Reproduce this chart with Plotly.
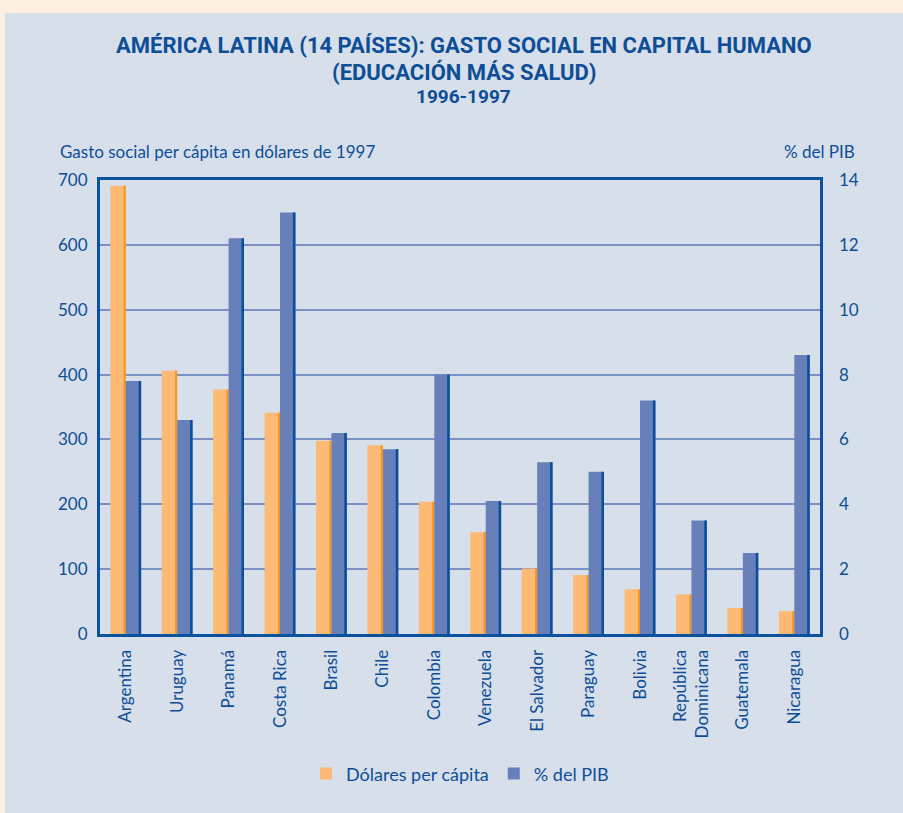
import plotly.graph_objects as go

countries = ["Argentina", "Uruguay", "Panamá", "Costa Rica", "Brasil", "Chile", "Colombia",
             "Venezuela", "El Salvador", "Paraguay", "Bolivia", "República<br>Dominicana",
             "Guatemala", "Nicaragua"]
dolares_per_capita = [691, 406, 377, 341, 298, 291, 204, 157, 101, 91, 69, 61, 40, 35]
pct_pib = [7.8, 6.6, 12.2, 13.0, 6.2, 5.7, 8.0, 4.1, 5.3, 5.0, 7.2, 3.5, 2.5, 8.6]
left_ticks = [0, 100, 200, 300, 400, 500, 600, 700]
right_ticks = [0, 2, 4, 6, 8, 10, 12, 14]

TXT = "#0E4E96"
ORANGE = "#FDBA74"
ORANGE_SIDE = "#F7941D"
BLUE = "#6780B9"
BLUE_SIDE = "#0B4F9C"
FRAME = "#0B529E"
GRID = "#7B90C4"
PANEL = "#D7DFEB"
PEACH = "#FEF0E1"
FONT = "Lato, Open Sans, sans-serif"
TFONT = "Roboto, sans-serif"

fig = go.Figure()
fig.add_trace(go.Bar(x=countries, y=dolares_per_capita, name="Dólares per cápita",
                     marker=dict(color=ORANGE, line=dict(width=0)),
                     offset=-0.30, width=0.30, yaxis="y"))
fig.add_trace(go.Bar(x=countries, y=dolares_per_capita, showlegend=False, hoverinfo="skip",
                     marker=dict(color=ORANGE_SIDE, line=dict(width=0)),
                     offset=-0.04, width=0.04, yaxis="y"))
fig.add_trace(go.Bar(x=countries, y=pct_pib, name="% del PIB",
                     marker=dict(color=BLUE, line=dict(width=0)),
                     offset=0.0, width=0.30, yaxis="y2"))
fig.add_trace(go.Bar(x=countries, y=pct_pib, showlegend=False, hoverinfo="skip",
                     marker=dict(color=BLUE_SIDE, line=dict(width=0)),
                     offset=0.25, width=0.05, yaxis="y2"))

fig.update_layout(
    width=903, height=813,
    paper_bgcolor=PEACH, plot_bgcolor="white",
    margin=dict(l=100, r=83, t=180, b=179),
    barmode="overlay",
    font=dict(family=FONT, color=TXT, size=16),
    xaxis=dict(tickangle=-90, showline=True, linecolor=FRAME, linewidth=3, mirror=True,
               ticks="", tickfont=dict(size=17, color=TXT), showgrid=False,
               ticklabelstandoff=6),
    yaxis=dict(range=[0, 700], tickvals=left_ticks, showline=True, linecolor=FRAME,
               linewidth=3, mirror=True, showgrid=True, gridcolor=GRID, gridwidth=1.5,
               ticks="", tickfont=dict(size=17, color=TXT), zeroline=False,
               ticklabelstandoff=6),
    yaxis2=dict(range=[0, 14], tickvals=right_ticks, overlaying="y", side="right",
                showgrid=False, zeroline=False, ticks="", showline=False,
                tickfont=dict(size=17, color=TXT), ticklabelstandoff=18),
    legend=dict(orientation="h", x=0.5, xanchor="center", y=-0.308, yanchor="middle",
                font=dict(size=18, color=TXT), bgcolor="rgba(0,0,0,0)",
                traceorder="normal"),
    shapes=[dict(type="rect", xref="paper", yref="paper", layer="below",
                 x0=-0.132, x1=1.3, y0=-0.6, y1=1.368,
                 fillcolor=PANEL, line=dict(width=0))],
    annotations=[
        dict(text="<b>AMÉRICA LATINA (14 PAÍSES): GASTO SOCIAL EN CAPITAL HUMANO</b>",
             xref="paper", yref="paper", x=0.505, y=1.297, xanchor="center",
             yanchor="middle", showarrow=False, font=dict(family=TFONT, size=22, color=TXT)),
        dict(text="<b>(EDUCACIÓN MÁS SALUD)</b>",
             xref="paper", yref="paper", x=0.505, y=1.238, xanchor="center",
             yanchor="middle", showarrow=False, font=dict(family=TFONT, size=22, color=TXT)),
        dict(text="<b>1996-1997</b>",
             xref="paper", yref="paper", x=0.505, y=1.183, xanchor="center",
             yanchor="middle", showarrow=False, font=dict(family=TFONT, size=19, color=TXT)),
        dict(text="Gasto social per cápita en dólares de 1997", xref="paper", yref="paper",
             x=-0.058, y=1.062, xanchor="left", yanchor="middle", showarrow=False,
             font=dict(size=17, color=TXT)),
        dict(text="% del PIB", xref="paper", yref="paper", x=1.051, y=1.062,
             xanchor="right", yanchor="middle", showarrow=False,
             font=dict(size=17, color=TXT)),
    ],
)

fig.write_html("out.html", config={"displayModeBar": False},
               post_script="document.body.style.margin='0';")
